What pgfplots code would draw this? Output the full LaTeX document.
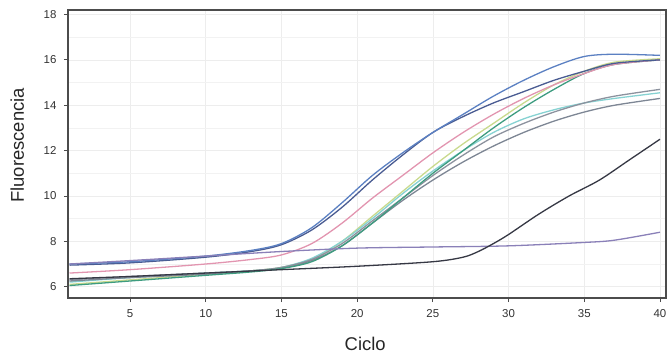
\documentclass[border=0pt]{standalone}
\usepackage{pgfplots}
\pgfplotsset{compat=1.18}
\usepackage{fontspec}
\setmainfont{Liberation Sans}
\definecolor{cblue}{HTML}{5B80C2}
\definecolor{cnavy}{HTML}{4A5C92}
\definecolor{cpink}{HTML}{E295B0}
\definecolor{cteal}{HTML}{3E9C80}
\definecolor{cyel}{HTML}{C9DA8E}
\definecolor{cgray}{HTML}{8C929E}
\definecolor{cgray2}{HTML}{7D8694}
\definecolor{ccyan}{HTML}{86D2D2}
\definecolor{cpurp}{HTML}{8A80B8}
\definecolor{cblack}{HTML}{363844}
\begin{document}
\begin{tikzpicture}[x=1bp,y=1bp]
\begin{axis}[
  at={(0,0)}, anchor=south west,
  scale only axis, width=598bp, height=288bp,
  xmin=0.9, xmax=40.4, ymin=5.5, ymax=18.2,
  xtick={5,10,...,40}, ytick={6,8,...,18},
  minor ytick={7,9,...,17},
  tick align=outside, xtick pos=left, ytick pos=left,
  major tick length=4bp, minor tick length=0pt,
  grid=both,
  major grid style={gray!14, line width=0.6bp},
  minor grid style={gray!10, line width=0.5bp},
  axis line style={black!70, line width=1.3bp},
  tick style={black!70, line width=0.8bp},
  tick label style={font=\fontsize{11.5}{13}\selectfont, black!80},
  yticklabel style={xshift=-4bp},
  xticklabel style={yshift=-4bp},
  /pgf/number format/assume math mode=true,
  xlabel={Ciclo}, ylabel={Fluorescencia},
  label style={font=\fontsize{18.5}{20}\selectfont, black!85},
  xlabel style={at={(axis description cs:0.497,-0.16)}, anchor=center},
  ylabel style={at={(axis description cs:-0.085,0.53)}, anchor=center},
  every axis plot/.append style={smooth, line width=1.3bp, no markers},
]
\addplot[cyel] coordinates {(1,6.1)(5,6.3)(10,6.55)(13,6.7)(15,6.85)(17,7.2)(19,8.0)(21,9.1)(23,10.2)(25,11.3)(27,12.3)(29,13.2)(31,14.1)(33,14.9)(35,15.5)(37,15.9)(40,16.05)};
\addplot[ccyan] coordinates {(1,6.2)(5,6.4)(10,6.6)(13,6.7)(15,6.85)(17,7.25)(19,8.0)(21,9.0)(23,10.1)(25,11.1)(27,12.0)(29,12.8)(31,13.4)(33,13.8)(35,14.1)(37,14.3)(40,14.55)};
\addplot[cgray] coordinates {(1,6.3)(5,6.45)(10,6.6)(13,6.7)(15,6.85)(17,7.2)(19,7.9)(21,8.9)(23,9.9)(25,10.9)(27,11.8)(29,12.6)(31,13.2)(33,13.7)(35,14.1)(37,14.4)(40,14.7)};
\addplot[cgray2] coordinates {(1,6.25)(5,6.4)(10,6.55)(13,6.7)(15,6.8)(17,7.15)(19,7.8)(21,8.8)(23,9.8)(25,10.7)(27,11.5)(29,12.2)(31,12.8)(33,13.3)(35,13.7)(37,14.0)(40,14.3)};
\addplot[cteal] coordinates {(1,6.05)(5,6.25)(10,6.5)(13,6.65)(15,6.8)(17,7.1)(19,7.8)(21,8.8)(23,9.9)(25,11.0)(27,12.0)(29,13.0)(31,13.9)(33,14.7)(35,15.4)(37,15.8)(40,16.0)};
\addplot[cpink] coordinates {(1,6.6)(5,6.75)(10,7.0)(13,7.2)(15,7.4)(17,7.9)(19,8.8)(21,9.9)(23,10.9)(25,11.9)(27,12.8)(29,13.6)(31,14.3)(33,14.9)(35,15.4)(37,15.8)(40,16.0)};
\addplot[cnavy] coordinates {(1,6.95)(5,7.05)(10,7.3)(13,7.55)(15,7.85)(17,8.5)(19,9.5)(21,10.7)(23,11.8)(25,12.8)(27,13.5)(29,14.1)(31,14.6)(33,15.1)(35,15.5)(37,15.85)(40,16.0)};
\addplot[cblue] coordinates {(1,7.0)(5,7.1)(10,7.35)(13,7.6)(15,7.9)(17,8.6)(19,9.7)(21,10.9)(23,11.9)(25,12.8)(27,13.6)(29,14.4)(31,15.1)(33,15.7)(35,16.15)(37,16.25)(40,16.2)};
\addplot[cpurp] coordinates {(1,7.0)(5,7.15)(10,7.35)(15,7.55)(20,7.7)(25,7.75)(30,7.8)(35,7.95)(37,8.05)(40,8.4)};
\addplot[cblack] coordinates {(1,6.35)(5,6.45)(10,6.6)(15,6.75)(20,6.9)(25,7.1)(27,7.3)(28,7.55)(29,7.9)(30,8.3)(32,9.2)(34,10.0)(36,10.7)(38,11.6)(40,12.5)};
\end{axis}
\pgfresetboundingbox
\path (-68,-58) rectangle (600,298);
\end{tikzpicture}
\end{document}
